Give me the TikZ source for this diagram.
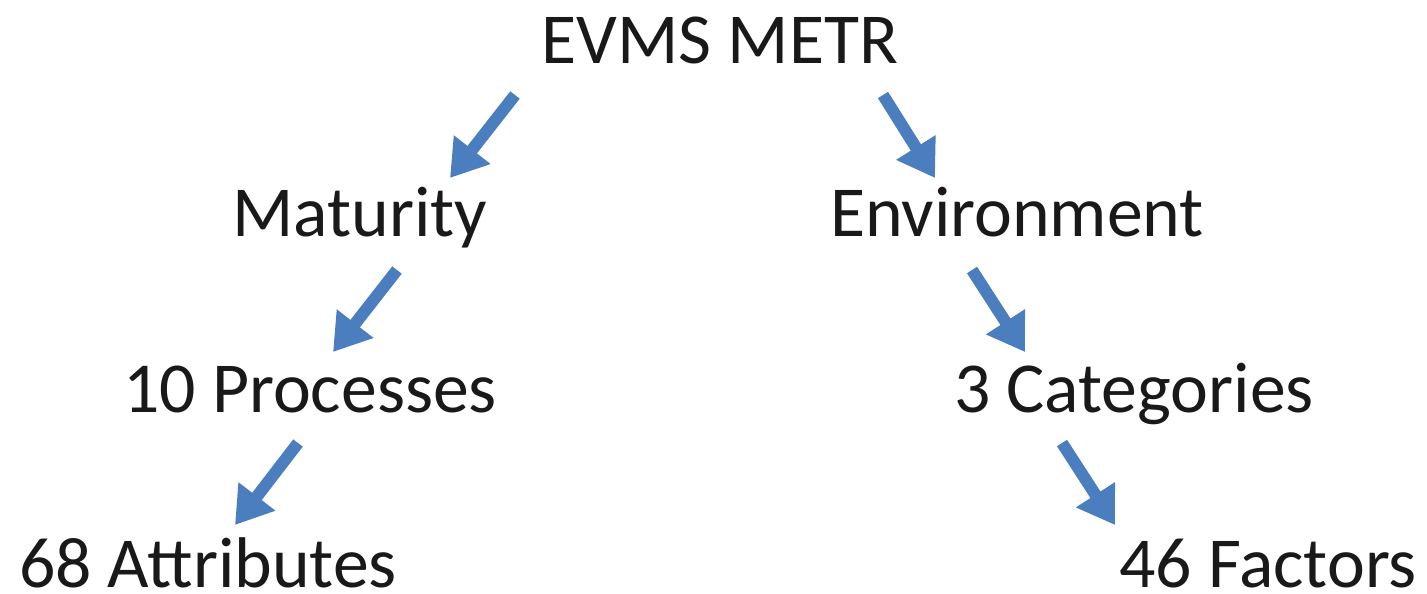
\documentclass[tikz,border=0pt]{standalone}
\usepackage{fontspec}
\setmainfont{Carlito}
\usetikzlibrary{arrows.meta}
\definecolor{arrowblue}{HTML}{4A7EBF}
\tikzset{
  lbl/.style={anchor=base, inner sep=0pt, font=\fontsize{20.4pt}{24pt}\selectfont, text=black!90},
  blockarrow/.style={draw=arrowblue, line width=0.12cm, -{Triangle[length=0.36cm,width=0.44cm]}}
}
\begin{document}
\begin{tikzpicture}[x=0.01cm,y=-0.01cm]
\useasboundingbox (0,0) rectangle (1427,594);
\node[lbl] (root) at (720,63) {EVMS METR};
\node[lbl] (mat) at (360,236) {Maturity};
\node[lbl] (env) at (1017,236) {Environment};
\node[lbl] (proc) at (310,412) {10 Processes};
\node[lbl] (cat) at (1134,412) {3 Categories};
\node[lbl] (attr) at (208,587) {68 Attributes};
\node[lbl] (fact) at (1268,587) {46 Factors};
\coordinate (a1s) at (515,95);  \coordinate (a1e) at (450,178);
\coordinate (a2s) at (883,95);  \coordinate (a2e) at (935,178);
\coordinate (a3s) at (397,270); \coordinate (a3e) at (333,352);
\coordinate (a4s) at (972,270); \coordinate (a4e) at (1025,352);
\coordinate (a5s) at (298,443); \coordinate (a5e) at (235,525);
\coordinate (a6s) at (1062,443); \coordinate (a6e) at (1115,525);
\draw[blockarrow] (a1s) -- (a1e);
\draw[blockarrow] (a2s) -- (a2e);
\draw[blockarrow] (a3s) -- (a3e);
\draw[blockarrow] (a4s) -- (a4e);
\draw[blockarrow] (a5s) -- (a5e);
\draw[blockarrow] (a6s) -- (a6e);
\end{tikzpicture}
\end{document}
